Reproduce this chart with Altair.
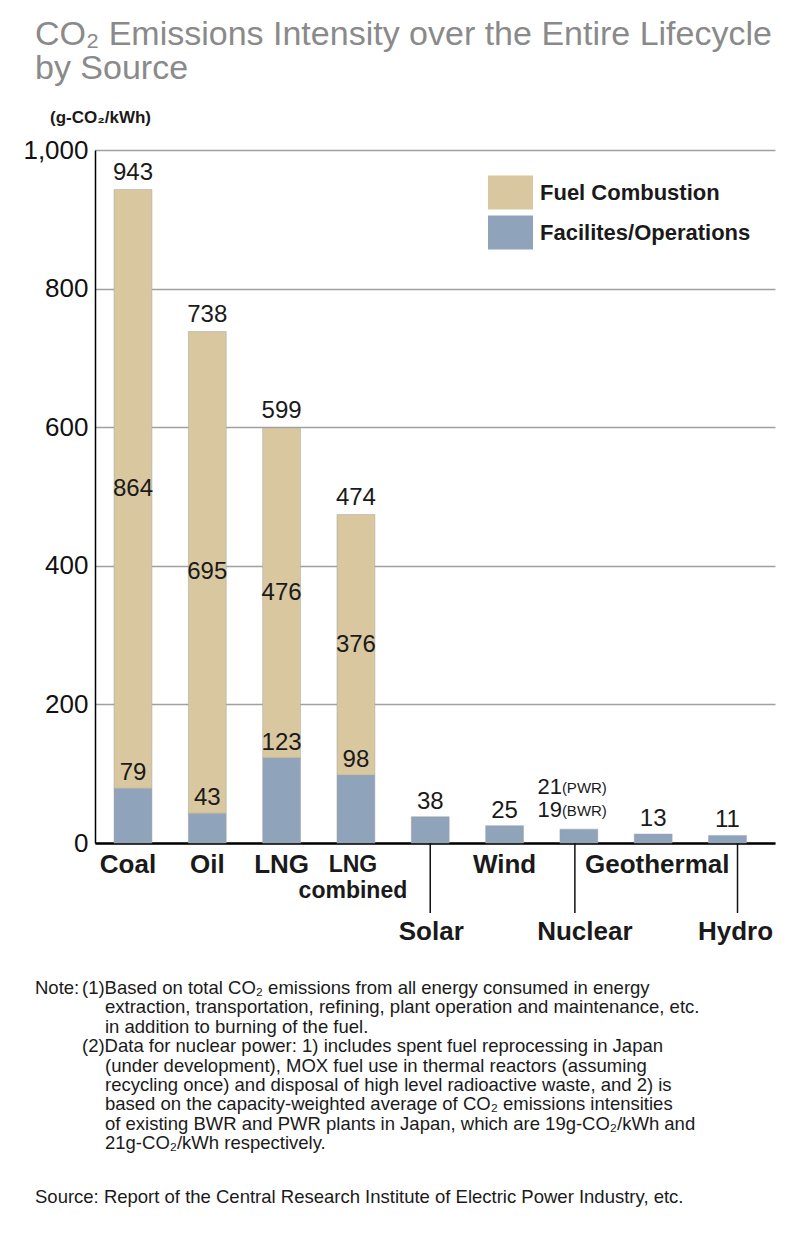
import altair as alt
import pandas as pd

# ---------------- data ----------------
sources = ["Coal", "Oil", "LNG", "LNG combined", "Solar", "Wind", "Nuclear", "Geothermal", "Hydro"]
facilities = [79, 43, 123, 98, 38, 25, 20, 13, 11]
fuel = [864, 695, 476, 376, 0, 0, 0, 0, 0]
series = ["Fuel Combustion", "Facilites/Operations"]
colors = ["#d9c7a0", "#8fa3bb"]
y_ticks = [0, 200, 400, 600, 800, 1000]

row1_labels = ["Coal", "Oil", "LNG", "Wind", "Geothermal"]
combined_lines = ["LNG", "combined"]
row2_labels = ["Solar", "Nuclear", "Hydro"]
nuclear_values = ["21", "19"]
nuclear_tags = ["(PWR)", "(BWR)"]

title_lines = ["CO\u2082 Emissions Intensity over the Entire Lifecycle", "by Source"]
unit_text = "(g-CO\u2082/kWh)"
note_head = "Note:"
note1_first = "(1)Based on total CO\u2082 emissions from all energy consumed in energy"
note1_rest = ["extraction, transportation, refining, plant operation and maintenance, etc.",
              "in addition to burning of the fuel."]
note2_first = "(2)Data for nuclear power: 1) includes spent fuel reprocessing in Japan"
note2_rest = ["(under development), MOX fuel use in thermal reactors (assuming",
              "recycling once) and disposal of high level radioactive waste, and 2) is",
              "based on the capacity-weighted average of CO\u2082 emissions intensities",
              "of existing BWR and PWR plants in Japan, which are 19g-CO\u2082/kWh and",
              "21g-CO\u2082/kWh respectively."]
source_text = "Source: Report of the Central Research Institute of Electric Power Industry, etc."

# ---------------- tables ----------------
long_rows = []
for s, f, u in zip(sources, facilities, fuel):
    long_rows.append({"source": s, "series": series[1], "value": f, "ord": 0})
    if u > 0:
        long_rows.append({"source": s, "series": series[0], "value": u, "ord": 1})
long_df = pd.DataFrame(long_rows)

wide = pd.DataFrame({"source": sources, "fac": facilities, "fuel": fuel})
wide["total"] = wide["fac"] + wide["fuel"]
wide["mid"] = wide["fac"] + wide["fuel"] / 2

W, H = 680, 693
FONT = "Liberation Sans"
TXT = "#1a1a1a"

xscale = alt.Scale(domain=sources, paddingInner=0.49, paddingOuter=0.32, align=0.4)
yscale = alt.Scale(domain=[0, 1000], nice=False)

X = alt.X("source:N", sort=sources, scale=xscale, title=None)
def Y(f):
    return alt.Y(f, scale=yscale, title=None)

bars = alt.Chart(long_df).mark_bar(stroke="#a5a5a5", strokeWidth=0.5).encode(
    x=X,
    y=alt.Y("value:Q", stack="zero", scale=yscale, title=None,
            axis=alt.Axis(values=y_ticks, format=",d")),
    color=alt.Color(
        "series:N",
        scale=alt.Scale(domain=series, range=colors),
        legend=alt.Legend(
            orient="none", legendX=393, legendY=20, title=None,
            symbolType="M-1,-0.756H1V0.756H-1Z", symbolSize=2025,
            symbolStrokeWidth=0, symbolOpacity=1,
            labelFont=FONT, labelFontSize=22, labelFontWeight="bold",
            labelColor=TXT, labelOffset=7, rowPadding=-4, padding=0,
            labelLimit=400,
        ),
    ),
    order=alt.Order("ord:Q", sort="ascending"),
)

base_wide = alt.Chart(wide)
fac_labels = base_wide.transform_filter("datum.source != 'Nuclear'").mark_text(
    font=FONT, fontSize=24, color=TXT, baseline="bottom", dy=-3
).encode(x=X, y=Y("fac:Q"), text="fac:Q")

total_labels = base_wide.transform_filter("datum.fuel > 0").mark_text(
    font=FONT, fontSize=24, color=TXT, baseline="bottom", dy=-5
).encode(x=X, y=Y("total:Q"), text="total:Q")

fuel_labels = base_wide.transform_filter("datum.fuel > 0").mark_text(
    font=FONT, fontSize=24, color=TXT, baseline="middle"
).encode(x=X, y=Y("mid:Q"), text="fuel:Q")

nuc = base_wide.transform_filter("datum.source == 'Nuclear'")
nuc_nums = nuc.mark_text(
    font=FONT, fontSize=22, color=TXT, baseline="middle", align="right",
    lineHeight=23, dx=-17, dy=-42
).encode(x=X, y=Y("fac:Q"), text=alt.value(nuclear_values))
nuc_tags = nuc.mark_text(
    font=FONT, fontSize=15, color=TXT, baseline="middle", align="left",
    lineHeight=23, dx=-17, dy=-41
).encode(x=X, y=Y("fac:Q"), text=alt.value(nuclear_tags))

# category labels under the axis
lab_df = pd.DataFrame({"source": sources})
label_dx = {"Coal": -5, "Oil": 0, "LNG": 0, "Wind": 0, "Geothermal": 4,
            "Solar": 1, "Nuclear": 6, "Hydro": 8}
leader_dx = {"Solar": 0, "Nuclear": -4, "Hydro": 10}

cat_layers = []
for name in row1_labels:
    cat_layers.append(
        alt.Chart(lab_df).transform_filter(alt.FieldEqualPredicate(field="source", equal=name))
        .mark_text(font=FONT, fontSize=26, fontWeight="bold", color=TXT,
                   baseline="middle", dx=label_dx[name])
        .encode(x=X, y=alt.value(H + 22), text="source:N"))

cat_layers.append(
    alt.Chart(lab_df).transform_filter("datum.source == 'LNG combined'")
    .mark_text(font=FONT, fontSize=23, fontWeight="bold", color=TXT,
               baseline="middle", lineHeight=26, dx=-3)
    .encode(x=X, y=alt.value(H + 22), text=alt.value(combined_lines)))

for name in row2_labels:
    sel = alt.Chart(lab_df).transform_filter(alt.FieldEqualPredicate(field="source", equal=name))
    cat_layers.append(
        sel.mark_rule(color="#111", strokeWidth=1.5, xOffset=leader_dx[name])
        .encode(x=X, y=alt.value(H), y2=alt.value(H + 70)))
    cat_layers.append(
        sel.mark_text(font=FONT, fontSize=26, fontWeight="bold", color=TXT,
                      baseline="middle", dx=label_dx[name])
        .encode(x=X, y=alt.value(H + 89), text="source:N"))

# annotation texts
one = pd.DataFrame({"k": [0]})
def ann(text, x, y, size, color=TXT, weight="normal", lh=None, font=FONT):
    kw = dict(font=font, fontSize=size, color=color, fontWeight=weight,
              align="left", baseline="middle")
    if lh is not None:
        kw["lineHeight"] = lh
    return alt.Chart(one).mark_text(**kw).encode(
        x=alt.value(x), y=alt.value(y), text=alt.value(text))

title = ann(title_lines, -60, -115, 34, color="#8a8a8a", lh=34)
unit = ann(unit_text, -45, -32, 17, weight="bold")
NL = 19.4
NF = 18.5
n0 = ann(note_head, -60, 838, NF)
n1 = ann(note1_first, -13, 838, NF)
n2 = ann(note1_rest, 10, 838 + NL, NF, lh=NL)
n3 = ann(note2_first, -13, 838 + NL * 3, NF)
n4 = ann(note2_rest, 10, 838 + NL * 4, NF, lh=NL)
src = ann(source_text, -60, 1047, NF)

chart = alt.layer(
    bars, fac_labels, total_labels, fuel_labels, nuc_nums, nuc_tags,
    *cat_layers,
    title, unit, n0, n1, n2, n3, n4, src,
).properties(
    width=W, height=H,
    autosize=alt.AutoSizeParams(type="none"),
    padding={"left": 87, "top": 142, "right": 10, "bottom": 385},
).configure_view(stroke=None).configure_axisY(
    labelFont=FONT, labelFontSize=26, labelColor="#111", labelPadding=7,
    ticks=False, domainColor="#000", domainWidth=1.5,
    gridColor="#a0a0a0", gridWidth=1.5,
).configure_axisX(
    labels=False, ticks=False, grid=False, domainColor="#000", domainWidth=2.5,
)

chart.save("out.html", embed_options={"renderer": "svg", "actions": False})
